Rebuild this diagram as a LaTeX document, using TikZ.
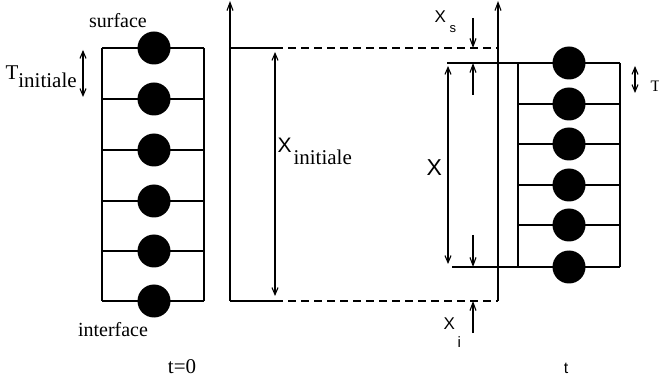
\documentclass[tikz,border=0pt]{standalone}
\usepackage{fontspec}
\setmainfont{Liberation Serif}
\setsansfont{Liberation Sans}
\usetikzlibrary{arrows.meta}
\begin{document}
\begin{tikzpicture}[x=1pt,y=-1pt,line width=1.1pt,
  bead/.style={circle,fill=black,inner sep=0pt,minimum size=33pt},
  dimarrow/.style={-{Straight Barb[length=8pt,width=6pt]}},
  dbl/.style={{Straight Barb[length=7pt,width=6pt]}-{Straight Barb[length=7pt,width=6pt]}},
  dashln/.style={dash pattern=on 8pt off 5pt},
  serif20/.style={font=\fontsize{20}{22}\selectfont,inner sep=0pt,anchor=base},
  sanslbl/.style={font=\sffamily,inner sep=0pt,anchor=base west}]
\useasboundingbox (0,0) rectangle (659,382);

% ---- left stack (t=0)
\foreach \y in {48,99,150,201,251,301} {\draw (102,\y) -- (204,\y);}
\draw (102,48) -- (102,301);
\draw (204,48) -- (204,301);
\foreach \y [count=\i] in {48,99,150,201,251,301} {\node[bead] (L\i) at (154,\y) {};}

\node[serif20] (surf) at (118,28) {surface};
\node[serif20] (intf) at (113,337) {interface};
\node[serif20,font=\fontsize{21}{22}\selectfont] (t0) at (182,373) {t=0};
\node[serif20,anchor=base west,font=\fontsize{21}{22}\selectfont] (Tini) at (5,80) {T\raisebox{-8pt}{initiale}};
\coordinate (ta) at (83,50); \coordinate (tb) at (83,97);
\draw[dbl] (ta) -- (tb);

% ---- middle axes
\coordinate (a1b) at (230,301); \coordinate (a1t) at (230,1);
\coordinate (a2b) at (498,301); \coordinate (a2t) at (498,1);
\draw[dimarrow] (a1b) -- (a1t);
\draw[dimarrow] (a2b) -- (a2t);
\coordinate (s0) at (230,48); \coordinate (s1) at (275,48); \coordinate (s2) at (498,48);
\coordinate (i0) at (230,301); \coordinate (i1) at (275,301); \coordinate (i2) at (498,301);
\draw (s0) -- (s1);
\draw[dashln] (s1) -- (s2);
\draw (i0) -- (i1);
\draw[dashln] (i1) -- (i2);

% X initiale
\coordinate (xa) at (275,52); \coordinate (xb) at (275,296);
\draw[dbl] (xa) -- (xb);
\node[sanslbl,font=\sffamily\fontsize{21}{22}\selectfont] (Xini) at (277,153) {X};
\node[serif20,anchor=base west,font=\fontsize{21}{22}\selectfont] (Xinisub) at (293,165) {initiale};

% X
\coordinate (ya) at (448,66); \coordinate (yb) at (448,264);
\draw[dbl] (ya) -- (yb);
\node[sanslbl,font=\sffamily\fontsize{23}{24}\selectfont] (Xl) at (426,176) {X};

% ---- right stack (t)
\draw (447,63) -- (620,63);
\draw (452,267) -- (620,267);
\foreach \y in {104,144,185,225} {\draw (518,\y) -- (620,\y);}
\draw (518,63) -- (518,267);
\draw (620,63) -- (620,267);
\foreach \y [count=\i] in {63,104,144,185,225,267} {\node[bead] (R\i) at (569,\y) {};}

% x_s
\coordinate (xs1) at (473,18); \coordinate (xs2) at (473,48);
\coordinate (xs3) at (473,95); \coordinate (xs4) at (473,63);
\draw[dimarrow] (xs1) -- (xs2);
\draw[dimarrow] (xs3) -- (xs4);
\node[sanslbl,font=\sffamily\fontsize{17}{18}\selectfont] (Xs) at (434,23) {X};
\node[sanslbl,font=\sffamily\fontsize{13}{14}\selectfont] (Xss) at (449,33) {s};

% x_i
\coordinate (xi1) at (473,235); \coordinate (xi2) at (473,267);
\coordinate (xi3) at (473,333); \coordinate (xi4) at (473,301);
\draw[dimarrow] (xi1) -- (xi2);
\draw[dimarrow] (xi3) -- (xi4);
\node[sanslbl,font=\sffamily\fontsize{17}{18}\selectfont] (Xi) at (443,329) {X};
\node[sanslbl,font=\sffamily\fontsize{15}{16}\selectfont] (Xis) at (457,347) {i};

% T
\coordinate (Ta) at (635,66); \coordinate (Tb) at (635,93);
\draw[dbl] (Ta) -- (Tb);
\node[serif20,anchor=base west,font=\fontsize{16}{17}\selectfont] (Tr) at (650,92) {T};

\node[sanslbl,font=\sffamily\fontsize{16}{17}\selectfont,anchor=base] (tr) at (566,373) {t};
\end{tikzpicture}
\end{document}
